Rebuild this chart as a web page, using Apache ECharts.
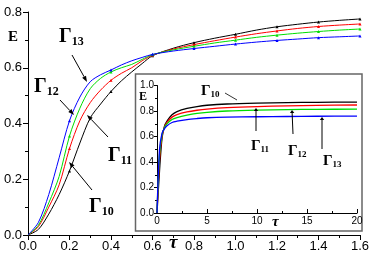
<!DOCTYPE html>
<html><head><meta charset="utf-8">
<script src="https://cdn.jsdelivr.net/npm/echarts@6/dist/echarts.min.js"></script>
<style>html,body{margin:0;padding:0;background:#fff}#c{width:382px;height:265px}</style>
</head><body><div id="c"></div>
<script>
// Main chart data
const tau = [0,0.05,0.1,0.15,0.2,0.25,0.3,0.35,0.4,0.45,0.5,0.55,0.6,0.7,0.8,0.9,1.0,1.1,1.2,1.3,1.4,1.5,1.6];
const G10 = [0,0.02,0.075,0.145,0.23,0.33,0.42,0.47,0.515,0.553,0.585,0.615,0.643,0.67,0.69,0.706,0.72,0.735,0.747,0.756,0.764,0.77,0.775];
const G11 = [0,0.03,0.1,0.18,0.31,0.41,0.475,0.52,0.555,0.58,0.60,0.625,0.645,0.667,0.683,0.697,0.71,0.722,0.732,0.741,0.748,0.753,0.757];
const G12 = [0,0.035,0.115,0.21,0.355,0.455,0.525,0.562,0.585,0.6,0.612,0.63,0.647,0.664,0.677,0.689,0.699,0.709,0.717,0.724,0.73,0.735,0.739];
const G13 = [0,0.045,0.145,0.277,0.41,0.495,0.55,0.575,0.592,0.61,0.625,0.637,0.648,0.66,0.669,0.677,0.685,0.692,0.698,0.703,0.708,0.711,0.714];
// Inset data
const insetTau = [0,0.25,0.5,0.75,1,1.5,2,3,4,5,7,10,13,16,20];
const I10 = [0,0.33,0.585,0.68,0.72,0.77,0.795,0.82,0.835,0.845,0.855,0.862,0.866,0.868,0.87];
const I11 = [0,0.41,0.60,0.675,0.71,0.752,0.772,0.793,0.806,0.815,0.826,0.835,0.84,0.844,0.847];
const I12 = [0,0.455,0.612,0.67,0.699,0.733,0.748,0.767,0.781,0.79,0.8,0.807,0.811,0.813,0.815];
const I13 = [0,0.495,0.625,0.662,0.685,0.71,0.72,0.733,0.741,0.747,0.752,0.755,0.757,0.759,0.76];
const names = ['Γ10','Γ11','Γ12','Γ13'];
const colors = ['#000000','#ff0000','#00dd00','#0000ff'];

const chart = echarts.init(document.getElementById('c'), null, {renderer:'canvas'});
const pair = (xs, ys) => xs.map((x,i)=>[x, ys[i]]);
const mark = v => { const r = Math.round(v[0]*10); return (v[0] > 0 && r % 2 === 0 && Math.abs(v[0]*10 - r) < 1e-6) ? 3 : 0; };

const mainSeries = [G10,G11,G12,G13].map((d,i)=>({
  type:'line', name:names[i], xAxisIndex:0, yAxisIndex:0, data:pair(tau,d),
  smooth:0.3, symbol:'triangle', symbolSize:mark, showSymbol:true,
  itemStyle:{color:colors[i]}, lineStyle:{color:colors[i], width:1}, z:3
}));
const insetSeries = [I10,I11,I12,I13].map((d,i)=>({
  type:'line', name:names[i]+'i', xAxisIndex:1, yAxisIndex:1, data:pair(insetTau,d),
  smooth:0.3, showSymbol:false, lineStyle:{color:colors[i], width:1.3}, z:6
}));

function arrow(x1,y1,x2,y2,head){
  const ang = Math.atan2(y2-y1,x2-x1), L=head||6, W=2.2;
  const bx = x2 - L*Math.cos(ang), by = y2 - L*Math.sin(ang);
  const px = -Math.sin(ang)*W, py = Math.cos(ang)*W;
  return [
    {type:'line', shape:{x1,y1,x2:bx,y2:by}, style:{stroke:'#000', lineWidth:1}, z:10},
    {type:'polygon', shape:{points:[[x2,y2],[bx+px,by+py],[bx-px,by-py]]}, style:{fill:'#000'}, z:10}
  ];
}
function gLabel(x,y,sub,size,subSize){
  return {type:'text', x, y, z:10, style:{
    text:'{g|Γ}{s|'+sub+'}', rich:{
      g:{fontFamily:'Liberation Serif', fontWeight:'bold', fontSize:size, fill:'#000'},
      s:{fontFamily:'Liberation Serif', fontWeight:'bold', fontSize:subSize, fill:'#000', padding:[size*0.55,0,0,0]}
    }}};
}

const axisText = {color:'#000', fontFamily:'Liberation Sans', fontSize:13};
chart.setOption({
  animation:false,
  grid:[
    {left:28, top:12, width:332, height:223},
    {left:157, top:85.5, width:200, height:127.5}
  ],
  xAxis:[
    {type:'value', gridIndex:0, min:0, max:1.6, interval:0.2,
     axisLine:{lineStyle:{color:'#000', width:1}}, axisTick:{length:5, lineStyle:{color:'#000'}},
     minorTick:{show:true, splitNumber:2, length:3, lineStyle:{color:'#000'}},
     axisLabel:Object.assign({margin:5, formatter:v=>v.toFixed(1)}, axisText), splitLine:{show:false}},
    {type:'value', gridIndex:1, min:0, max:20, interval:5, z:5,
     axisLine:{lineStyle:{color:'#000', width:1}}, axisTick:{inside:true, length:4, lineStyle:{color:'#000'}},
     minorTick:{show:true, splitNumber:2, length:2, lineStyle:{color:'#000'}},
     axisLabel:{color:'#000', fontFamily:'Liberation Sans', fontSize:10, margin:3}, splitLine:{show:false}}
  ],
  yAxis:[
    {type:'value', gridIndex:0, min:0, max:0.8, interval:0.2,
     axisLine:{show:true, lineStyle:{color:'#000', width:1}}, axisTick:{show:true, length:5, lineStyle:{color:'#000'}},
     minorTick:{show:true, splitNumber:2, length:3, lineStyle:{color:'#000'}},
     axisLabel:Object.assign({margin:6, formatter:v=>v.toFixed(1)}, axisText), splitLine:{show:false}},
    {type:'value', gridIndex:1, min:0, max:1.0, interval:0.2, z:5,
     axisLine:{show:true, lineStyle:{color:'#000', width:1}}, axisTick:{show:true, length:3, lineStyle:{color:'#000'}},
     minorTick:{show:true, splitNumber:2, length:2, lineStyle:{color:'#000'}},
     axisLabel:{color:'#000', fontFamily:'Liberation Sans', fontSize:10, margin:3, formatter:v=>v.toFixed(1)}, splitLine:{show:false}}
  ],
  series: mainSeries.concat(insetSeries),
  graphic:[
    {type:'rect', shape:{x:135.5, y:74, width:226.5, height:157}, style:{fill:'#fff', stroke:'#666', lineWidth:1.5}, z:1},
    {type:'text', x:8, y:30, style:{text:'E', fontFamily:'Liberation Serif', fontWeight:'bold', fontSize:15, fill:'#000'}, z:10},
    {type:'text', x:169, y:234, style:{text:'τ', fontFamily:'Liberation Serif', fontStyle:'italic', fontWeight:'bold', fontSize:19, fill:'#000'}, z:10},
    {type:'text', x:139, y:91, style:{text:'E', fontFamily:'Liberation Serif', fontWeight:'bold', fontSize:12, fill:'#000'}, z:10},
    {type:'text', x:272, y:215, style:{text:'τ', fontFamily:'Liberation Serif', fontStyle:'italic', fontWeight:'bold', fontSize:15, fill:'#000'}, z:10},
    gLabel(59,25,'13',20,12),
    gLabel(34,75,'12',20,12),
    gLabel(108,144,'11',20,12),
    gLabel(89,195,'10',20,12),
    ...arrow(72,55,87,82),
    ...arrow(60,100,74,115),
    ...arrow(108,137,87,115),
    ...arrow(92,190,69,162),
    gLabel(201,82,'10',15,9),
    gLabel(251,137,'11',15,9),
    gLabel(288,142,'12',15,9),
    gLabel(323,152,'13',15,9),
    {type:'line', shape:{x1:225,y1:93,x2:237,y2:100}, style:{stroke:'#000', lineWidth:0.8}, z:10},
    ...arrow(256,131,256,108,3),
    ...arrow(293,134,292,110,3),
    ...arrow(322,149,322,117,3)
  ]
});
</script></body></html>
